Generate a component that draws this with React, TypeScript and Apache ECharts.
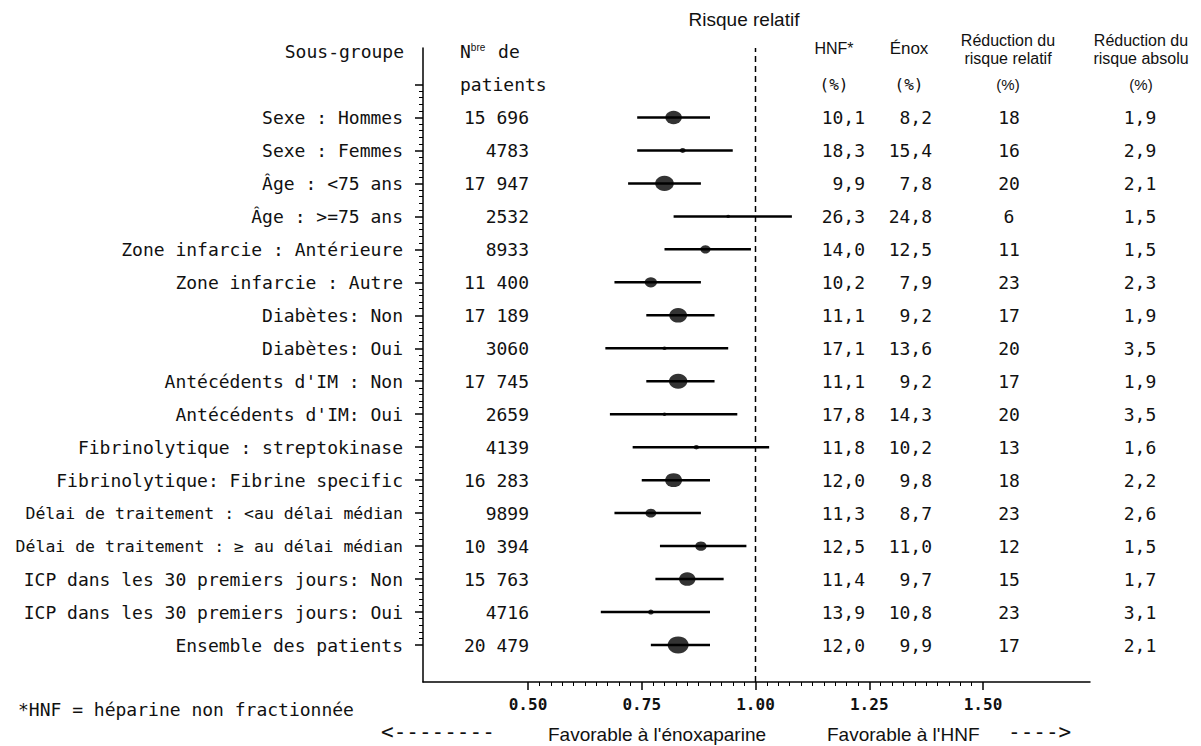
import React, { useEffect, useRef } from "react";
import * as echarts from "echarts";

const subgroups = [
  "Sexe : Hommes",
  "Sexe : Femmes",
  "Âge : <75 ans",
  "Âge : >=75 ans",
  "Zone infarcie : Antérieure",
  "Zone infarcie : Autre",
  "Diabètes: Non",
  "Diabètes: Oui",
  "Antécédents d'IM : Non",
  "Antécédents d'IM: Oui",
  "Fibrinolytique : streptokinase",
  "Fibrinolytique: Fibrine specific",
  "Délai de traitement : <au délai médian",
  "Délai de traitement : ≥ au délai médian",
  "ICP dans les 30 premiers jours: Non",
  "ICP dans les 30 premiers jours: Oui",
  "Ensemble des patients",
];
const patients = ["15 696", "4783", "17 947", "2532", "8933", "11 400", "17 189", "3060", "17 745", "2659", "4139", "16 283", "9899", "10 394", "15 763", "4716", "20 479"];
const riskRatio = [0.82, 0.84, 0.80, 0.94, 0.89, 0.77, 0.83, 0.80, 0.83, 0.80, 0.87, 0.82, 0.77, 0.88, 0.85, 0.77, 0.83];
const ciLow = [0.74, 0.74, 0.72, 0.82, 0.80, 0.69, 0.76, 0.67, 0.76, 0.68, 0.73, 0.75, 0.69, 0.79, 0.78, 0.66, 0.77];
const ciHigh = [0.90, 0.95, 0.88, 1.08, 0.99, 0.88, 0.91, 0.94, 0.91, 0.96, 1.03, 0.90, 0.88, 0.98, 0.93, 0.90, 0.90];
const hnfRate = ["10,1", "18,3", "9,9", "26,3", "14,0", "10,2", "11,1", "17,1", "11,1", "17,8", "11,8", "12,0", "11,3", "12,5", "11,4", "13,9", "12,0"];
const enoxRate = ["8,2", "15,4", "7,8", "24,8", "12,5", "7,9", "9,2", "13,6", "9,2", "14,3", "10,2", "9,8", "8,7", "11,0", "9,7", "10,8", "9,9"];
const relReduction = ["18", "16", "20", "6", "11", "23", "17", "20", "17", "20", "13", "18", "23", "12", "15", "23", "17"];
const absReduction = ["1,9", "2,9", "2,1", "1,5", "1,5", "2,3", "1,9", "3,5", "1,9", "3,5", "1,6", "2,2", "2,6", "1,5", "1,7", "3,1", "2,1"];
const xTickMin = 0.5;
const xTickMax = 1.5;
const xTickStep = 0.25;
const nullEffect = 1.0;

const MONO = "'DejaVu Sans Mono', 'Liberation Mono', monospace";
const SANS = "'Liberation Sans', Arial, sans-serif";
const NARROW = "'Liberation Sans Narrow', 'Liberation Sans', Arial, sans-serif";
const INK = "#111";

export default function App() {
  const ref = useRef<HTMLDivElement>(null);
  useEffect(() => {
    const chart = echarts.init(ref.current!, null, { renderer: "svg" });
    const rows = subgroups.map((_, i) => i);
    const counts = patients.map((p) => Number(p.replace(/\s/g, "")));

    const txt = (x: number, y: number, text: string, font: string, align: string, extra: any = {}) => ({
      type: "text",
      x,
      y,
      silent: true,
      style: {
        text,
        font,
        fill: INK,
        textAlign: align,
        align,
        textVerticalAlign: "middle",
        verticalAlign: "middle",
        ...extra,
      },
    });

    const option: any = {
      animation: false,
      backgroundColor: "#ffffff",
      grid: [
        { left: 423, top: 48, width: 667, height: 634 },
        { left: 528, top: 84.5, width: 455, height: 560.5 },
      ],
      xAxis: [
        {
          gridIndex: 0,
          type: "value",
          min: 0.2692,
          max: 1.7352,
          axisLine: { show: true, onZero: false, lineStyle: { color: "#000", width: 1.5 } },
          axisTick: { show: false },
          axisLabel: { show: false },
          splitLine: { show: false },
        },
        {
          gridIndex: 1,
          type: "value",
          min: xTickMin,
          max: xTickMax,
          interval: xTickStep,
          offset: 37,
          axisLine: { show: false, onZero: false },
          axisTick: { show: true, length: 8, lineStyle: { color: "#000", width: 1.5 } },
          minorTick: { show: true, splitNumber: 10, length: 4, lineStyle: { color: "#000", width: 1 } },
          splitLine: { show: false },
          minorSplitLine: { show: false },
          axisLabel: {
            margin: 14,
            color: INK,
            fontFamily: MONO,
            fontWeight: "bold",
            fontSize: 16,
            formatter: (v: number) => v.toFixed(2),
          },
        },
      ],
      yAxis: [
        {
          gridIndex: 0,
          type: "value",
          min: 0,
          max: 1,
          axisLine: { show: true, onZero: false, lineStyle: { color: "#000", width: 1.5 } },
          axisTick: { show: false },
          axisLabel: { show: false },
          splitLine: { show: false },
        },
        {
          gridIndex: 1,
          type: "value",
          inverse: true,
          min: -1,
          max: subgroups.length - 1,
          interval: 1,
          offset: 105,
          axisLine: { show: false, onZero: false },
          axisTick: { show: true, length: 8, lineStyle: { color: "#000", width: 1.5 } },
          minorTick: { show: true, splitNumber: 5, length: 4, lineStyle: { color: "#000", width: 1 } },
          splitLine: { show: false },
          minorSplitLine: { show: false },
          axisLabel: {
            margin: 20,
            color: INK,
            fontFamily: MONO,
            fontSize: 18,
            formatter: (v: number) => {
              const s = subgroups[Math.round(v)];
              if (s === undefined || v < 0) return "";
              return s.length > 36 ? `{n|${s}}` : s;
            },
            rich: { n: { fontFamily: MONO, fontSize: 16.5, color: INK } },
          },
        },
      ],
      graphic: [
        txt(744, 19, "Risque relatif", `19px ${SANS}`, "center"),
        txt(404, 51, "Sous-groupe", `18px ${MONO}`, "right"),
        {
          type: "text",
          x: 460,
          y: 51,
          silent: true,
          style: {
            text: "{a|N}{b|bre}{a| de}",
            textVerticalAlign: "middle",
            verticalAlign: "middle",
            fill: INK,
            rich: {
              a: { font: `18px ${MONO}`, fill: INK, color: INK },
              b: { font: `10px ${SANS}`, fill: INK, color: INK, verticalAlign: "top", padding: [0, 2, 0, 0] },
            },
          },
        },
        txt(460, 84, "patients", `18px ${MONO}`, "left"),
        txt(834, 48, "HNF*", `16px ${SANS}`, "center"),
        txt(909, 48, "Énox", `17px ${SANS}`, "center"),
        txt(1008, 49, "Réduction du\nrisque relatif", `16px ${NARROW}`, "center", { lineHeight: 18 }),
        txt(1141, 49, "Réduction du\nrisque absolu", `16px ${NARROW}`, "center", { lineHeight: 18 }),
        txt(834, 84, "(%)", `16px ${MONO}`, "center"),
        txt(909, 84, "(%)", `16px ${MONO}`, "center"),
        txt(1008, 84, "(%)", `15px ${NARROW}`, "center"),
        txt(1141, 84, "(%)", `15px ${NARROW}`, "center"),
        txt(18, 709, "*HNF = héparine non fractionnée", `18px ${MONO}`, "left"),
        txt(381, 732, "<--------", `21px ${MONO}`, "left"),
        txt(548, 734, "Favorable à l'énoxaparine", `19px ${SANS}`, "left"),
        txt(827, 734, "Favorable à l'HNF", `19px ${SANS}`, "left"),
        txt(1008, 732, "---->", `21px ${MONO}`, "left"),
      ],
      series: [
        {
          type: "line",
          xAxisIndex: 0,
          yAxisIndex: 0,
          data: [
            [nullEffect, 0],
            [nullEffect, 1],
          ],
          showSymbol: false,
          silent: true,
          lineStyle: { color: "#000", width: 1.5, type: [6, 4] },
        },
        {
          type: "custom",
          xAxisIndex: 1,
          yAxisIndex: 1,
          silent: true,
          data: rows.map((i) => [ciLow[i], ciHigh[i], i]),
          encode: { x: [0, 1], y: 2 },
          renderItem: (_p: any, api: any) => {
            const y = api.value(2);
            const a = api.coord([api.value(0), y]);
            const b = api.coord([api.value(1), y]);
            return {
              type: "line",
              shape: { x1: a[0], y1: a[1], x2: b[0], y2: b[1] },
              style: { stroke: "#000", lineWidth: 2.5 },
            };
          },
        },
        {
          type: "scatter",
          xAxisIndex: 1,
          yAxisIndex: 1,
          symbol: "circle",
          silent: true,
          z: 3,
          itemStyle: { color: "#000" },
          data: rows.map((i) => {
            const w = 1.5 + counts[i] / 1050;
            return { value: [riskRatio[i], i], symbolSize: [w, w * 0.82] };
          }),
        },
        {
          type: "custom",
          xAxisIndex: 1,
          yAxisIndex: 1,
          silent: true,
          clip: false,
          data: rows.map((i) => [xTickMin, i]),
          encode: { x: 0, y: 1 },
          renderItem: (p: any, api: any) => {
            const i = p.dataIndex;
            const y = api.coord([xTickMin, api.value(1)])[1];
            const f = `18px ${MONO}`;
            return {
              type: "group",
              children: [
                txt(529, y, patients[i], f, "right"),
                txt(865, y, hnfRate[i], f, "right"),
                txt(932, y, enoxRate[i], f, "right"),
                txt(1009, y, relReduction[i], f, "center"),
                txt(1140, y, absReduction[i], f, "center"),
              ],
            };
          },
        },
      ],
    };
    chart.setOption(option);
    return () => chart.dispose();
  }, []);
  return <div ref={ref} style={{ position: "absolute", left: 0, top: 0, width: 1201, height: 746 }} />;
}
